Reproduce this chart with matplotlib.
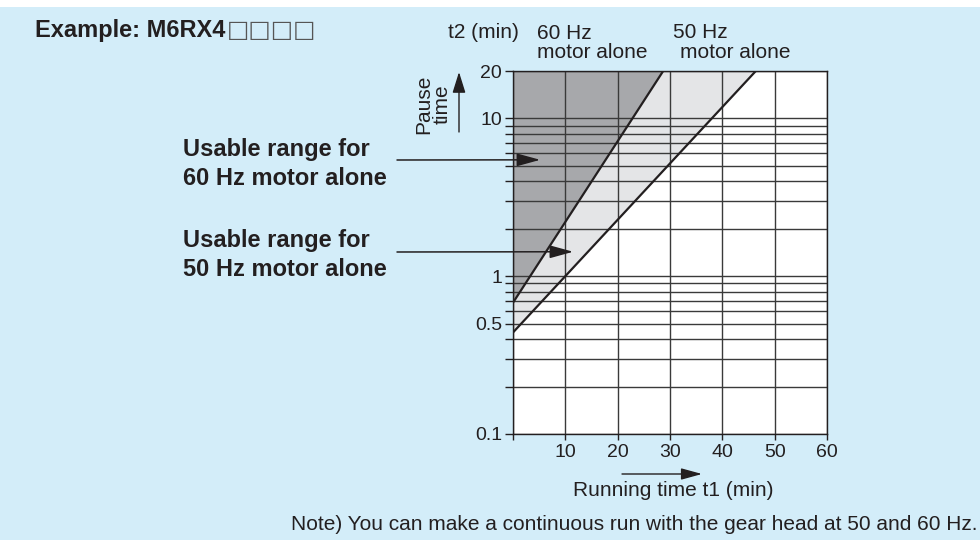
import matplotlib
matplotlib.use('Agg')
import matplotlib.pyplot as plt
from matplotlib.patches import Rectangle, FancyArrowPatch

plt.rcParams['font.family'] = ['Liberation Sans', 'DejaVu Sans']

# boundary lines, running time t1 (min) vs pause time t2 (min)
t1_60 = [0, 28.7]
t2_60 = [0.68, 20]
t1_50 = [0, 46.4]
t2_50 = [0.44, 20]

x_ticks = [0, 10, 20, 30, 40, 50, 60]
x_labels = ['', '10', '20', '30', '40', '50', '60']
y_major = [0.1, 0.5, 1, 10, 20]
y_labels = ['0.1', '0.5', '1', '10', '20']
y_minor = [0.2, 0.3, 0.4, 0.6, 0.7, 0.8, 0.9, 2, 3, 4, 5, 6, 7, 8, 9]

# where the callout arrows point (t1, t2)
tip_60 = (5.2, 5.47)
tip_50 = (11.5, 1.43)

W, H = 980, 540
BLUE = '#d3edf9'
DARK = '#a7a8ab'
LIGHT = '#e4e5e7'
INK = '#231f20'


def fx(px):
    return px / W


def fy(py):
    return 1 - py / H


fig = plt.figure(figsize=(W / 100, H / 100), dpi=100, facecolor='white')
fig.patches.append(Rectangle((0, 0), 1, fy(7), transform=fig.transFigure,
                             facecolor=BLUE, edgecolor='none', zorder=-5))

ax = fig.add_axes([fx(513), fy(434), fx(827) - fx(513), fy(71) - fy(434)])
ax.set_zorder(2)
ax.set_facecolor('white')
ax.set_yscale('log')
ax.set_xlim(0, 60)
ax.set_ylim(0.1, 20)

# shaded usable ranges
ax.fill([t1_60[0], t1_60[1], 0], [t2_60[0], t2_60[1], 20],
        color=DARK, lw=0, zorder=1)
ax.fill([0, t1_50[1], t1_60[1], 0], [t2_50[0], 20, 20, t2_60[0]],
        color=LIGHT, lw=0, zorder=1)
ax.plot(t1_60, t2_60, color=INK, lw=1.6, zorder=3, solid_capstyle='butt')
ax.plot(t1_50, t2_50, color=INK, lw=1.6, zorder=3, solid_capstyle='butt')

ax.set_xticks(x_ticks)
ax.set_xticklabels(x_labels)
ax.set_yticks(y_major)
ax.set_yticklabels(y_labels)
ax.set_yticks(y_minor, minor=True)
ax.yaxis.set_minor_formatter(plt.NullFormatter())
ax.set_xticks([], minor=True)

ax.grid(True, which='both', color='#3a3a3a', lw=1.0)
for s in ax.spines.values():
    s.set_color(INK)
    s.set_linewidth(1.0)
ax.tick_params(axis='y', which='both', length=6, width=1.0, color=INK,
               pad=2, labelsize=14, labelcolor=INK)
ax.tick_params(axis='x', which='both', length=4.5, width=1.0, color=INK,
               pad=3, labelsize=14, labelcolor=INK)

# callouts on the left
arrow_kw = dict(arrowstyle='-|>,head_length=0.8,head_width=0.22',
                color=INK, lw=1.1, mutation_scale=18, shrinkA=0, shrinkB=0)
ax.annotate('', xy=tip_60, xycoords='data',
            xytext=(fx(397), fy(160)), textcoords='figure fraction',
            arrowprops=arrow_kw)
ax.annotate('', xy=tip_50, xycoords='data',
            xytext=(fx(397), fy(252)), textcoords='figure fraction',
            arrowprops=arrow_kw)

bold = dict(fontsize=17, fontweight='bold', color=INK, va='center', ha='left')
fig.text(fx(183), fy(164), 'Usable range for\n60 Hz motor alone',
         linespacing=1.3, **bold)
fig.text(fx(183), fy(255), 'Usable range for\n50 Hz motor alone',
         linespacing=1.3, **bold)

title = fig.text(fx(35), fy(30), 'Example: M6RX4', **bold)
ax.annotate('\u25a1\u25a1\u25a1\u25a1', xy=(1, 0.5), xycoords=title,
            xytext=(1, 0), textcoords='offset points',
            ha='left', va='center', fontsize=17, color='#555555',
            family=['DejaVu Sans'], annotation_clip=False)

norm = dict(fontsize=15, color=INK)
fig.text(fx(448), fy(33), 't2 (min)', va='center', ha='left', **norm)
fig.text(fx(537), fy(43), '60 Hz\nmotor alone', va='center', ha='left',
         linespacing=1.0, **norm)
fig.text(fx(673), fy(33), '50 Hz', va='center', ha='left', **norm)
fig.text(fx(680), fy(53), 'motor alone', va='center', ha='left', **norm)

fig.text(fx(433), fy(104), 'Pause\ntime', rotation=90, va='center',
         ha='center', multialignment='center', linespacing=1.0, **norm)
fig.add_artist(FancyArrowPatch(
    (fx(459), fy(132)), (fx(459), fy(72)), transform=fig.transFigure,
    arrowstyle='-|>,head_length=0.8,head_width=0.25', mutation_scale=16,
    color=INK, lw=1.0, shrinkA=0, shrinkB=0))

fig.add_artist(FancyArrowPatch(
    (fx(622), fy(474)), (fx(702), fy(474)), transform=fig.transFigure,
    arrowstyle='-|>,head_length=0.8,head_width=0.22', mutation_scale=16,
    color=INK, lw=1.0, shrinkA=0, shrinkB=0))
fig.text(fx(673), fy(490), 'Running time t1 (min)', va='center', ha='center',
         **norm)

fig.text(fx(977), fy(525), 'Note) You can make a continuous run with the '
         'gear head at 50 and 60 Hz.', va='center', ha='right', **norm)

fig.savefig('out.png', dpi=100, facecolor=fig.get_facecolor())
